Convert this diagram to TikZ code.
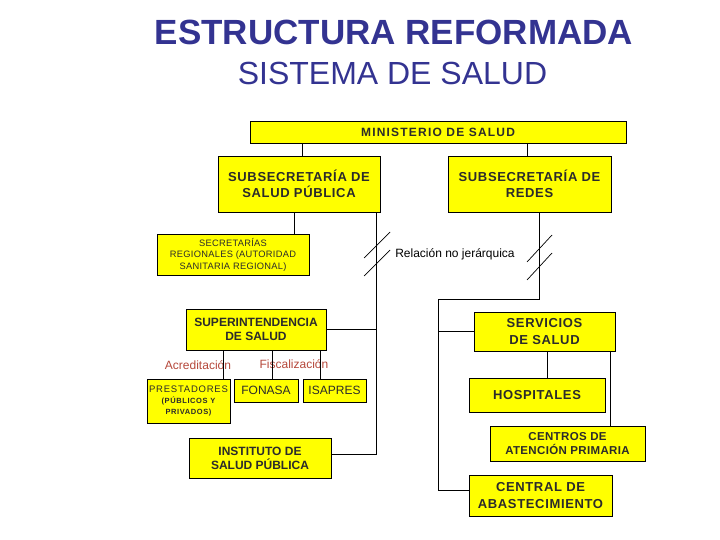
\documentclass[tikz,border=0pt]{standalone}
\usepackage{fontspec}
\setmainfont{Liberation Sans}
\definecolor{titleblue}{HTML}{333391}
\definecolor{txt}{HTML}{2B2B2B}
\definecolor{redlab}{HTML}{B5473A}
\definecolor{boxyellow}{HTML}{FFFF00}
\tikzset{
  box/.style={draw=black, fill=boxyellow, line width=0.9pt, inner sep=0pt, align=center, text=txt},
  conn/.style={draw=black, line width=0.9pt},
  slash/.style={draw=black, line width=0.7pt},
  fB/.style={font=\fontsize{13}{16.5}\selectfont\bfseries\addfontfeature{LetterSpace=5}},
  fM/.style={font=\fontsize{12}{14}\selectfont\bfseries},
  fS/.style={font=\fontsize{9.3}{11.5}\selectfont\addfontfeature{LetterSpace=3}},
  lab/.style={font=\fontsize{12}{14}\selectfont, inner sep=0pt}
}
\begin{document}
\begin{tikzpicture}[x=1pt,y=-1pt]
\useasboundingbox (0,0) rectangle (720,540);
% titles
\node[anchor=base, text=titleblue, font=\fontsize{35}{40}\selectfont\bfseries, inner sep=0pt] (t1) at (394,45) {ESTRUCTURA REFORMADA};
\node[anchor=base, text=titleblue, font=\fontsize{32}{36}\selectfont, inner sep=0pt] (t2) at (392.5,85) {SISTEMA DE SALUD};
% boxes
\node[box, font=\fontsize{12}{14}\selectfont\bfseries\addfontfeature{LetterSpace=10}, minimum width=376pt, minimum height=22pt] (min) at (438,132) {MINISTERIO DE SALUD};
\node[box, fB, minimum width=162pt, minimum height=56pt] (ssp) at (299,184) {SUBSECRETARÍA DE\\SALUD PÚBLICA};
\node[box, fB, minimum width=163pt, minimum height=56pt] (redes) at (529.5,184) {SUBSECRETARÍA DE\\REDES};
\node[box, fS, minimum width=152pt, minimum height=41pt] (secreg) at (233,254.5) {SECRETARÍAS\\REGIONALES (AUTORIDAD\\SANITARIA REGIONAL)};
\node[box, fM, minimum width=140pt, minimum height=41pt] (super) at (256,329.5) {SUPERINTENDENCIA\\DE SALUD};
\node[box, minimum width=83pt, minimum height=44pt] (prest) at (188.5,401) {{\fontsize{9.5}{12}\selectfont\addfontfeature{LetterSpace=8}PRESTADORES}\\[-1pt]{\fontsize{7.5}{12}\selectfont\bfseries\addfontfeature{LetterSpace=8}(PÚBLICOS Y}\\[-1pt]{\fontsize{7.5}{12}\selectfont\bfseries\addfontfeature{LetterSpace=8}PRIVADOS)}};
\node[box, font=\fontsize{12}{14}\selectfont, minimum width=64pt, minimum height=23pt] (fonasa) at (266,390.5) {FONASA};
\node[box, font=\fontsize{12}{14}\selectfont, minimum width=63pt, minimum height=23pt] (isapres) at (334.5,390.5) {ISAPRES};
\node[box, fM, minimum width=142pt, minimum height=40pt] (isp) at (260,458) {INSTITUTO DE\\SALUD PÚBLICA};
\node[box, fB, minimum width=141pt, minimum height=39pt] (sds) at (544.5,331.5) {SERVICIOS\\DE SALUD};
\node[box, fB, minimum width=136pt, minimum height=34pt] (hosp) at (537,395) {HOSPITALES};
\node[box, font=\fontsize{11.5}{14}\selectfont\bfseries\addfontfeature{LetterSpace=3}, minimum width=155pt, minimum height=35pt] (cap) at (567.5,443.5) {CENTROS DE\\ATENCIÓN PRIMARIA};
\node[box, fB, minimum width=143pt, minimum height=41pt] (cda) at (540.5,495.5) {CENTRAL DE\\ABASTECIMIENTO};
% labels
\node[lab] (rel) at (455,254) {Relación no jerárquica};
\node[lab, text=redlab] (acr) at (198,365) {Acreditación};
\node[lab, text=redlab] (fis) at (294,364) {Fiscalización};
% connectors
\draw[conn] (min.south -| 302,0) -- (ssp.north -| 302,0);
\draw[conn] (min.south -| 527,0) -- (redes.north -| 527,0);
\draw[conn] (ssp.south -| 294,0) -- (secreg.north -| 294,0);
\coordinate (v1) at (376,454);
\draw[conn] (ssp.south -| v1) -- (v1) -- (v1 -| isp.east);
\draw[conn] (super.east) -- (super.east -| v1);
\draw[conn] (super.south -| 223,0) -- (prest.north -| 223,0);
\draw[conn] (super.south -| 272,0) -- (fonasa.north -| 272,0);
\draw[conn] (super.south -| 320,0) -- (isapres.north -| 320,0);
\coordinate (r1) at (539,299);
\coordinate (r2) at (438,299);
\coordinate (r3) at (438,490);
\draw[conn] (redes.south -| r1) -- (r1) -- (r2) -- (r3) -- (r3 -| cda.west);
\draw[conn] (sds.west) -- (sds.west -| r2);
\draw[conn] (sds.south -| 547,0) -- (hosp.north -| 547,0);
\draw[conn] (sds.south -| 610,0) -- (cap.north -| 610,0);
% non-hierarchical marks
\draw[slash] (364,258) -- (390,232);
\draw[slash] (364,276) -- (390,250);
\draw[slash] (527,262) -- (552,235);
\draw[slash] (527,280) -- (552,253);
\end{tikzpicture}
\end{document}
